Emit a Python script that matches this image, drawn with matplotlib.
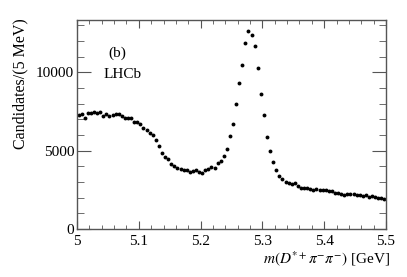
import numpy as np
from matplotlib import pyplot as plt
from matplotlib.ticker import MultipleLocator

plt.rcParams['font.family'] = ['Liberation Serif', 'DejaVu Serif']
plt.rcParams['mathtext.fontset'] = 'stix'
plt.rcParams['font.size'] = 11

# 5 MeV bins from 5.0 to 5.5 GeV
bin_lo = 5.0
bin_w = 0.005
counts = [7300, 7330, 7110, 7410, 7410, 7450, 7390, 7450, 7240, 7350,
          7220, 7300, 7330, 7330, 7200, 7110, 7070, 7070, 6860, 6840,
          6690, 6460, 6350, 6160, 6010, 5710, 5330, 4860, 4620, 4440,
          4120, 4030, 3910, 3860, 3780, 3780, 3610, 3720, 3740, 3670,
          3550, 3740, 3840, 3970, 3870, 4200, 4350, 4680, 5080, 5950,
          6720, 7980, 9350, 10450, 11870, 12630, 12400, 11690, 10270, 8630,
          7300, 5900, 4990, 4270, 3760, 3400, 3170, 2990, 2950, 2890,
          2950, 2770, 2635, 2620, 2600, 2560, 2500, 2550, 2506, 2484,
          2463, 2421, 2400, 2272, 2272, 2230, 2187, 2251, 2230, 2208,
          2145, 2166, 2102, 2187, 2039, 2124, 2018, 1975, 1954, 1933]

x = bin_lo + bin_w*(np.arange(len(counts)) + 0.5)
y = np.array(counts)

fig = plt.figure(figsize=(4.07, 2.77), dpi=100)
ax = fig.add_axes([77/407, 48/277, 309/407, 209/277])

ax.plot(x, y, 'o', color='black', markersize=2.8, markeredgewidth=0)

ax.set_xlim(5.0, 5.5)
ax.set_ylim(0, 13350)
ax.xaxis.set_major_locator(MultipleLocator(0.1))
ax.xaxis.set_minor_locator(MultipleLocator(0.02))
ax.yaxis.set_major_locator(MultipleLocator(5000))
ax.yaxis.set_minor_locator(MultipleLocator(1000))
ax.set_xticks([5.0, 5.1, 5.2, 5.3, 5.4, 5.5])
ax.set_xticklabels(['5', '5.1', '5.2', '5.3', '5.4', '5.5'])

ax.tick_params(which='both', direction='in', top=True, right=True, color='#555555')
ax.tick_params(axis='y', which='major', length=10, pad=2)
ax.tick_params(axis='y', which='minor', length=5)
ax.tick_params(axis='x', which='major', length=6, pad=4)
ax.tick_params(axis='x', which='minor', length=3)
for s in ax.spines.values():
    s.set_color('#555555')
    s.set_linewidth(1.0)

ax.set_ylabel('Candidates/(5 MeV)', loc='top', fontsize=11.5)
ax.yaxis.set_label_coords(-0.158, 1.01)
ax.set_xlabel(r'$m(D^{*+}\pi^{-}\pi^{-})$ [GeV]', loc='right')
ax.xaxis.set_label_coords(1.013, -0.096)

ax.text(0.129, 0.842, '(b)', transform=ax.transAxes, ha='center', va='center')
ax.text(0.146, 0.737, 'LHCb', transform=ax.transAxes, ha='center', va='center')

fig.savefig('out.png', dpi=100)
